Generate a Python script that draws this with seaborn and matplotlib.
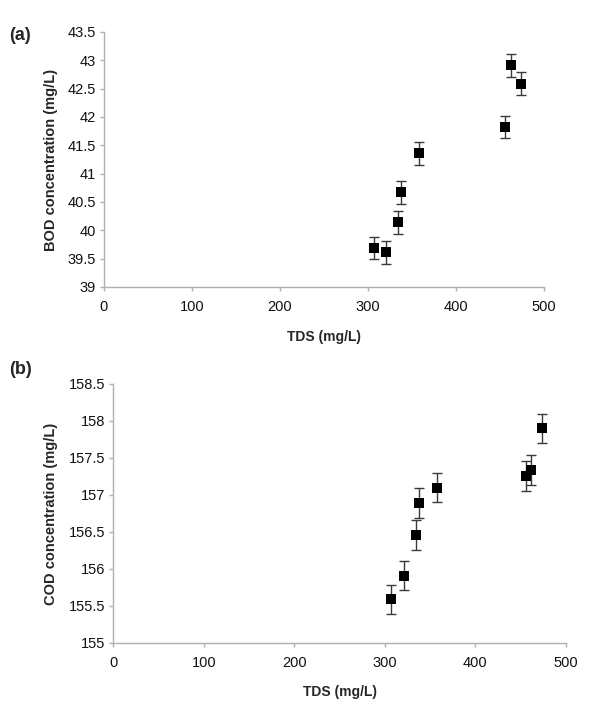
"""BOD and COD concentration versus TDS, two stacked scatter panels."""

import matplotlib

matplotlib.use("Agg")

import matplotlib.pyplot as plt
import pandas as pd
import seaborn as sns
from matplotlib.ticker import FuncFormatter, MultipleLocator

TDS = [307, 321, 334, 338, 358, 456, 462, 474]
BOD = [39.69, 39.61, 40.14, 40.67, 41.36, 41.82, 42.91, 42.59]
COD = [155.59, 155.91, 156.46, 156.89, 157.10, 157.26, 157.34, 157.90]
BOD_ERR = [0.2] * len(TDS)
COD_ERR = [0.2] * len(TDS)

SPINE = "#b0b0b0"
FONT = ["Liberation Sans", "DejaVu Sans"]

sns.set_style("white")
plt.rcParams["font.family"] = FONT


def draw_panel(fig, rect, y, err, ylim, ylabel, xlabel_y, ylabel_x):
    ax = fig.add_axes(rect)
    frame = pd.DataFrame({"tds": TDS, "value": y})
    ax.errorbar(
        frame["tds"], frame["value"], yerr=err, fmt="none",
        ecolor="#3a3a3a", elinewidth=1.0, capsize=3.6, capthick=1.0, zorder=2,
    )
    sns.scatterplot(
        data=frame, x="tds", y="value", marker="s", s=58, color="black",
        edgecolor="black", linewidth=0, ax=ax, zorder=3,
    )
    ax.set_xlim(0, 500)
    ax.set_ylim(*ylim)
    ax.xaxis.set_major_locator(MultipleLocator(100))
    ax.yaxis.set_major_locator(MultipleLocator(0.5))
    ax.yaxis.set_major_formatter(FuncFormatter(lambda v, _: f"{v:g}"))
    for side in ("top", "right"):
        ax.spines[side].set_visible(False)
    for side in ("left", "bottom"):
        ax.spines[side].set_color(SPINE)
        ax.spines[side].set_linewidth(1.0)
    ax.tick_params(direction="out", length=3, width=1.0, color=SPINE,
                   labelsize=10.5, labelcolor="#111111", left=True, bottom=True)
    ax.tick_params(axis="x", pad=6.5)
    ax.tick_params(axis="y", pad=3)
    ax.set_xlabel("TDS (mg/L)", fontsize=10, fontweight="bold")
    ax.set_ylabel(ylabel, fontsize=10.5, fontweight="bold")
    ax.xaxis.set_label_coords(0.5, xlabel_y)
    ax.xaxis.label.set_va("center")
    ax.yaxis.set_label_coords(ylabel_x, 0.5)
    ax.yaxis.label.set_va("center")
    return ax


fig = plt.figure(figsize=(6.0, 7.18), dpi=100)

draw_panel(fig, [0.1733, 0.6003, 0.7333, 0.3552], BOD, BOD_ERR,
           (39, 43.5), "BOD concentration (mg/L)", -0.196, -0.1195)
draw_panel(fig, [0.189, 0.1045, 0.754, 0.3607], COD, COD_ERR,
           (155, 158.5), "COD concentration (mg/L)", -0.189, -0.137)

fig.text(9.5 / 600, 1 - 35.6 / 718, "(a)", fontsize=13, fontweight="bold",
         ha="left", va="center")
fig.text(9.5 / 600, 1 - 369 / 718, "(b)", fontsize=13, fontweight="bold",
         ha="left", va="center")

fig.savefig("out.png", dpi=100)
plt.close(fig)
